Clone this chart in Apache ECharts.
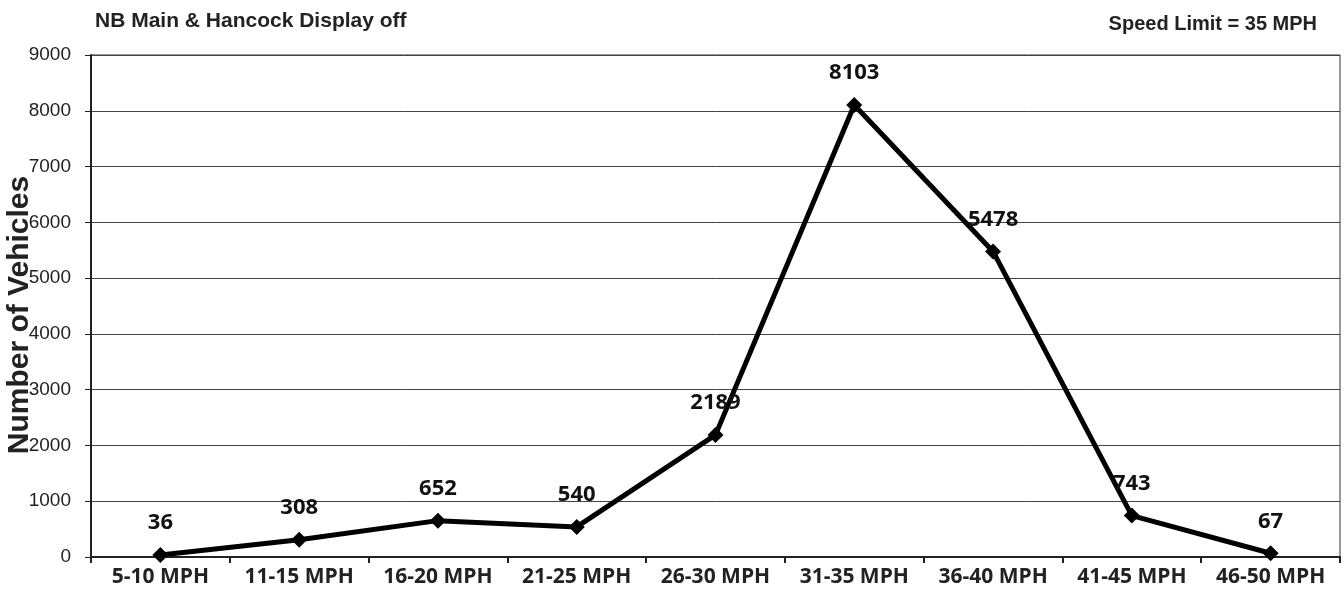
<!DOCTYPE html>
<html><head><meta charset="utf-8">
<script src="https://cdn.jsdelivr.net/npm/echarts@6/dist/echarts.min.js"></script>
<style>html,body{margin:0;padding:0;background:#fff}#c{width:1344px;height:604px}</style>
</head><body><div id="c"></div>
<script>
const categories = ['5-10 MPH','11-15 MPH','16-20 MPH','21-25 MPH','26-30 MPH','31-35 MPH','36-40 MPH','41-45 MPH','46-50 MPH'];
const vehicles = [36, 308, 652, 540, 2189, 8103, 5478, 743, 67];
const titleText = 'NB Main & Hancock Display off';
const speedLimitText = 'Speed Limit = 35 MPH';
const yName = 'Number of Vehicles';

const chart = echarts.init(document.getElementById('c'));
chart.setOption({
  backgroundColor: '#fff',
  animation: false,
  title: [
    {text: titleText, left: 90, top: 6, textStyle: {fontFamily: 'Liberation Sans, Arial', fontWeight: 'bold', fontSize: 21, color: '#222'}},
    {text: speedLimitText, right: 22, top: 9, textStyle: {fontFamily: 'Liberation Sans, Arial', fontWeight: 'bold', fontSize: 20, color: '#222'}}
  ],
  grid: {left: 91, right: 4, top: 55, bottom: 47, containLabel: false, outerBoundsMode: 'none', show: true, borderColor: '#333', borderWidth: 1},
  xAxis: {
    type: 'category', data: categories, boundaryGap: true,
    axisLine: {lineStyle: {color: '#222', width: 2}},
    axisTick: {show: true, length: 6, lineStyle: {color: '#222', width: 2}},
    axisLabel: {fontFamily: 'Open Sans, Liberation Sans', fontWeight: 'bold', fontSize: 21, color: '#222', margin: 10, interval: 0},
    splitLine: {show: false}
  },
  yAxis: {
    type: 'value', min: 0, max: 9000, interval: 1000,
    name: yName, nameLocation: 'middle', nameGap: 56, nameRotate: 90, nameMoveOverlap: false,
    nameTextStyle: {fontFamily: 'Liberation Sans, Arial', fontWeight: 'bold', fontSize: 30, color: '#222', padding: [0, 0, 0, -18]},
    axisLine: {show: true, lineStyle: {color: '#222', width: 2}},
    axisTick: {show: true, length: 6, lineStyle: {color: '#222', width: 1}},
    axisLabel: {fontFamily: 'Liberation Sans, Arial', fontSize: 19, color: '#222', margin: 20, formatter: v => String(v)},
    splitLine: {show: true, lineStyle: {color: '#444', width: 1}}
  },
  series: [{
    type: 'line', data: vehicles,
    lineStyle: {color: '#000', width: 5},
    itemStyle: {color: '#000'},
    symbol: 'diamond', symbolSize: 16,
    label: {show: true, position: 'top', distance: 13, fontFamily: 'Open Sans, Liberation Sans', fontWeight: 'bold', fontSize: 22, color: '#111'}
  }]
});
</script></body></html>
